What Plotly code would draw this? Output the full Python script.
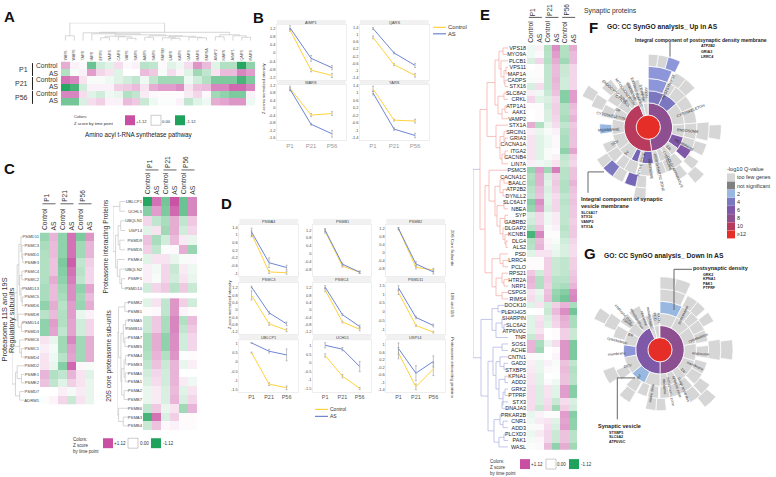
import plotly.graph_objects as go

W, H = 776, 477
FONT = "Liberation Sans"
MAGENTA, GREEN = "#c94fa3", "#1fa35c"
GOLD, BLUE = "#ffd23c", "#6f86d4"
HEAT_SCALE = [[0, GREEN], [.1, "#6cc393"], [.25, "#a8dcbc"], [.5, "#ffffff"], [.75, "#e8b3d6"], [.9, "#d67fbb"], [1, MAGENTA]]

# ---------- Panel A ----------
A_GENES = ["YARS","WARS","TARS","IARS","EPRS","NARS","CARS","VARS","SARS","AARS","SARS","FARSB","LARS","KARS","GARS","HARS","FARSA","AIMP2","MARS","AIMP1","QARS","RARS"]
A_ROWS = ["P1 Control","P1 AS","P21 Control","P21 AS","P56 Control","P56 AS"]
A_VALUES = [
 [.6,.1,.05,-.9,-.3,-.2,.25,.05,.1,-.45,-.4,.05,-.2,-.1,.25,.75,.5,-.2,-.5,-.5,-1.1,-.7],
 [-.5,-.05,.1,.7,.3,.2,-.2,0,0,.5,.4,-.05,.25,.08,-.2,-.6,-.4,.2,.5,.5,.85,.7],
 [.95,.85,.2,-.05,-.05,-.1,-.2,-.3,-.4,-.1,-.4,-.6,-.6,-.6,-.1,-.3,-.5,-.8,-.8,-.8,-1.0,-.8],
 [-1.1,-1.0,-.3,.1,.1,.1,.35,.4,.5,.2,.6,.7,.7,.8,.2,.45,.5,.85,.85,1.0,1.0,.85],
 [.85,.85,.25,-.2,-.3,-.1,-.15,-.5,-.4,.15,.05,.03,.03,.03,.15,.3,.05,-.6,-.7,-.8,-.8,.1],
 [-.85,-.85,-.25,.25,.35,.1,.1,.5,.4,-.35,-.1,-.03,-.03,.1,-.4,-.2,-.1,.6,.65,.75,.75,-.1],
]
A_T1 = (8,2,(7,3,(6,(4.5,(3,4,5),(4,6,(2.5,7,8))),(5,(3.5,9,10),(4.5,(3,11,(2.5,12,13)),(3.5,14,(3,15,16)))))))
A_T2 = (6,(4,17,18),(5,19,(3.5,20,21)))
A_TREE = (18,(5,0,1),(8.5,A_T1,A_T2))

# ---------- Panel C ----------
C_L_GENES = ["PSMD11","PSMC3","PSMD1","PSME3","PSMC4","PSMC2","PSMD13","PSMC5","PSMD6","PSMD8","PSMD14","PSMD3","PSMC6","PSMC1","PSMD4","PSMD2","PSME1","PSME2","PSMD7","ADRM1"]
C_L_VALUES = [
 [-.65,.55,-.7,.95,-.8,.75],[-.55,.5,-.7,.95,-.6,.55],[-.5,.5,-.7,.95,-.6,.55],[-.5,.45,-.8,1.05,-.4,.35],
 [-.5,.45,-.75,.95,-.45,.3],[-.5,.6,-.7,.9,-.4,.3],[-.55,.5,-.6,.8,-.7,.65],[-.55,.5,-.55,.8,-.6,.5],
 [-.7,.6,-.45,.7,-.65,.6],[-.45,.5,-.5,.7,-.15,.1],[-.7,.7,-.5,.65,-.3,.3],[-.7,.65,-.4,.65,-.3,.3],
 [.2,-.15,-.6,.85,-.6,.6],[.12,-.07,-.6,.7,-.6,.6],[.2,-.1,-.45,.65,-.6,.6],[.2,-.15,-.75,1.0,.05,-.05],
 [.55,-.5,-.4,.55,.2,-.2],[.45,-.4,-.2,.35,.2,-.15],[0,0,.12,-.07,.15,-.15],[-.03,.08,.3,-.35,.2,-.15],
]
C_L_TREE = (14,(11,(8,(6,(3.5,0,(2.5,1,(1.5,2,3))),(5,(2.5,4,5),(3.5,6,(2,7,8)))),(7,9,(3,10,11))),(5,12,(3,13,14))),(10,(8,15,(3,16,17)),(5,18,19)))
C_RT_GENES = ["UBLCP1","UCHL5","UBQLN1","USP14","PSMD9","PSMD5","PSME4","UBQLN2","PSMF1","PSMD10"]
C_RT_VALUES = [
 [-1.1,.95,-.85,1.1,-.9,.85],[-.75,.7,-.8,1.0,-.9,.85],[.3,-.4,-.55,.6,-.4,.4],[-.2,.2,-.6,.6,-.3,.3],
 [.45,-.55,-.3,.5,.15,-.15],[.35,-.4,-.03,.05,.6,-.65],[-.2,.2,.2,-.15,-.05,.05],[.12,-.08,.3,-.35,.15,-.12],
 [.12,-.05,.3,-.3,.2,-.15],[-.3,.3,.4,-.45,.4,-.35],
]
C_RT_TREE = (14,(6,0,1),(11,(8,(5,2,3),(6,4,5)),(9,6,(6,7,(4,8,9)))))
C_RB_GENES = ["PSMB2","PSMB1","PSMA5","PSMB10","PSMA7","PSMB5","PSMA4","PSMB3","PSMA6","PSMA1","PSMA2","PSMB7","PSMB6","PSMA3","PSMB4"]
C_RB_VALUES = [
 [-.2,.2,-.4,.75,.35,-.3],[.03,.05,-.4,.75,.08,.03],[-.35,.4,-.55,.85,-.5,.5],[-.35,.4,-.55,.85,-.4,.4],
 [-.55,.6,-.7,.8,-.3,.3],[-.55,.6,-.7,.8,-.3,.3],[-.5,.55,-.5,.75,-.02,.03],[-.4,.45,-.35,.55,-.15,.12],
 [-.3,.3,-.3,.55,0,0],[-.25,.25,-.3,.55,.15,-.1],[-.15,.15,-.25,.5,-.2,.2],[-.15,.15,-.25,.55,-.25,.3],
 [-.4,.4,-.15,.2,-.6,.55],[-1.0,.95,-.25,.35,.03,.03],[-.35,.45,.05,.1,.03,.03],
]
C_RB_TREE = (14,(12,(4,0,1),(9,(6,(3,2,3),(4,4,5)),(8,(5,(3,6,7),(3.5,8,9)),(5,10,11)))),(12,12,(6,13,14)))

# ---------- Panel E ----------
E_GENES = ["VPS18","MYO9A","PLCB1","VPS11","MAP1A","CADPS","STX16","SLC8A2","CRKL","ATP1A1","AAK1","VAMP2","STX1A","SRCIN1","GRIA3","CACNA1A","ITGA2","CACNB4","LIN7A","PSMC5","CACNA1C","BAALC","ATP2B2","DYNLL2","SLC6A17","NBEA","SYP","GABRB2","DLGAP2","KCNB1","DLG4","ALS2","PSD","LRRC4","PCLO","RPS21","HTR2A","NRP1","CSPG5","RIMS4","DOCK10","PLEKHG5","SHARPIN","SLC6A2","ATP6V0C","TNR","SOS1","ACHE","CNTN1","GAD2","STXBP5","KPNA1","ADD2","GRK2","PTPRF","STX3","DNAJA3","PRKAR2B","CNR1","ADD3","PLCXD3","PAK1","WASL"]
E_VALUES = [
 [-.1,.1,-.5,.8,-.5,.6],[-.1,.05,-.45,.7,-.5,.5],[-.25,.3,-.5,.6,-.6,.5],[0,.03,-.4,.5,-.35,.3],[-.03,.03,-.4,.5,-.35,.3],
 [-.05,.05,-.4,.55,-.3,.3],[-.25,.25,-.4,.5,-.3,.3],[.12,-.1,-.35,.45,-.75,.7],[.3,-.2,-.25,.3,-.75,.7],[.03,.03,-.3,.35,-.5,.5],
 [0,.03,-.25,.35,-.5,.45],[0,.03,-.25,.3,-.55,.55],[.6,-.5,-.15,.25,-.4,.4],[.12,-.15,-.05,.1,-.5,.45],[.2,-.2,-.1,.05,-.55,.45],
 [.2,-.2,-.1,.05,-.55,.45],[.2,-.2,-.05,.03,-.7,.65],[.2,-.2,-.05,.1,-.4,.35],[.12,-.1,-.15,.2,-.35,.3],[-.65,.7,-.6,.9,-.45,.45],
 [-.5,.6,-.25,.35,-.45,.45],[-.55,.6,-.2,.4,-.5,.55],[-.45,.5,-.25,.35,-.5,.45],[-.4,.45,-.2,.25,-.4,.4],[-.75,.8,-.2,.3,-.45,.45],
 [-.65,.7,-.25,.3,-.4,.4],[-.25,.3,-.1,.15,-.4,.4],[-.3,.3,-.1,.15,-.4,.35],[-.45,.45,-.05,.1,-.45,.4],[-1.0,.85,-.03,.03,-.4,.4],
 [-.5,.5,.08,-.05,-.3,.3],[-.45,.55,.1,-.1,-.25,.25],[-.2,.2,.2,-.15,-.25,.25],[.03,.03,.35,-.35,-.4,.35],[.03,.03,.35,-.35,-.4,.35],
 [.4,-.3,.35,-.35,-.4,.4],[.55,-.5,.4,-.45,-.45,.45],[.5,-.5,.35,-.5,-.55,.55],[.2,-.15,.45,-.65,-.75,.8],[.25,-.2,.5,-.7,-.85,.85],
 [-.2,.2,-.3,.35,.55,-.55],[0,.02,-.35,.5,.8,-.85],[-.2,.2,-.25,.35,.6,-.55],[-.2,.25,-.2,.3,.55,-.55],[-.2,.2,0,.03,.35,-.35],
 [-.35,.35,0,.03,.35,-.35],[.55,-.55,-.15,.25,.75,-.8],[.55,-.6,0,.03,.75,-.8],[.05,-.05,0,.08,.75,-.8],[.12,-.15,.1,-.05,.45,-.4],
 [.15,-.15,.05,-.03,.5,-.5],[.2,-.2,0,-.02,.45,-.45],[.2,-.2,.05,-.1,.45,-.45],[.25,-.25,.2,-.2,.7,-.75],[.25,-.25,.2,-.2,.7,-.75],
 [.25,-.25,.25,-.35,.25,-.25],[.25,-.35,.3,-.6,.35,-.3],[-.15,.1,-.03,.03,.7,-.75],[-.1,.15,.2,-.2,.65,-.7],[-.05,.05,.25,-.25,.7,-.7],
 [-.12,.15,.3,-.35,.45,-.45],[-.07,.07,.3,-.35,.45,-.45],[-.03,.05,.5,-.7,.6,-.6],
]
E_A1 = (13,(9,(5,0,1),(7,2,(4,(2,3,4),(3,5,6)))),(10,(4,7,8),(6,(3,9,10),11)))
E_A2 = (12,12,(8,(4,13,(3,14,15)),(6,(3,16,17),18)))
E_B1 = (19,19,(13,(8,(4,20,21),(5,22,23)),(11,(4,24,25),(8,(3,26,27),(5,28,(3,29,(2,30,31)))))))
E_B2 = (16,(8,32,(5,33,34)),(12,(6,35,(4,36,37)),(6,38,39)))
E_UP_TREE = (28,(21,E_A1,E_A2),(23,E_B1,E_B2))
E_D1 = (16,(10,40,41),(12,(6,42,(4,43,44)),45))
E_D2 = (20,(15,(6,46,47),(12,(8,48,(4,49,50)),(9,(3,51,52),(5,(3,53,54),(6,55,56))))),(14,(8,57,(5,58,59)),(9,(4,60,61),62)))
E_DOWN_TREE = (27,E_D1,E_D2)
E_ROOT_HEIGHT = 35

# ---------- Line panels B and D ----------
TIMEPOINTS = ["P1","P21","P56"]
LINE_CONTROL = {
 "AIMP1":[1.12,-.84,-1.1],"QARS":[.85,-.68,-1.28],"WARS":[1.05,-.38,-.3],"YARS":[1.22,-.45,-.5],
 "PSMA3":[1.05,-.93,-.97],"PSMB1":[1.15,-.62,-.93],"PSMB2":[1.2,-.72,-.85],
 "PSMC3":[.8,-.75,-1.1],"PSMC4":[1.1,-.65,-1.05],"PSMD11":[1.1,-.75,-1.12],
 "UBLCP1":[.5,-1.2,-1.4],"UCHL5":[.43,-.78,-1.5],"USP14":[.55,-1.25,-.3],
}
LINE_AS = {
 "AIMP1":[1.23,-.26,-.72],"QARS":[1.35,-.02,-.72],"WARS":[1.0,-.87,-1.38],"YARS":[1.0,-.93,-1.27],
 "PSMA3":[1.15,-.45,-.7],"PSMB1":[1.2,-.52,-.93],"PSMB2":[1.22,-.55,-.95],
 "PSMC3":[1.25,-.15,-.75],"PSMC4":[1.25,-.25,-.9],"PSMD11":[1.35,-.3,-.75],
 "UBLCP1":[1.03,.58,.38],"UCHL5":[1.03,.8,-.22],"USP14":[.8,-.52,.11],
}
ERR_CONTROL = {
 "AIMP1":[.06,.08,.1],"QARS":[.08,.06,.1],"WARS":[.12,.08,.1],"YARS":[.15,.05,.1],
 "PSMA3":[.15,.08,.08],"PSMB1":[.1,.05,.06],"PSMB2":[.05,.08,.08],
 "PSMC3":[.25,.08,.08],"PSMC4":[.1,.05,.08],"PSMD11":[.12,.05,.05],
 "UBLCP1":[.03,.08,.1],"UCHL5":[.1,.1,.06],"USP14":[.3,.15,.35],
}
ERR_AS = {
 "AIMP1":[.1,.14,.1],"QARS":[.06,.05,.12],"WARS":[.08,.05,.18],"YARS":[.1,.07,.12],
 "PSMA3":[.2,.25,.12],"PSMB1":[.08,.06,.06],"PSMB2":[.05,.12,.1],
 "PSMC3":[.05,.08,.1],"PSMC4":[.08,.05,.08],"PSMD11":[.12,.07,.08],
 "UBLCP1":[.02,.1,.32],"UCHL5":[.15,.1,.3],"USP14":[.3,.4,.3],
}
Y_TICKS = {
 "AIMP1":[1.2,.8,.4,0,-.4,-.8,-1.2],"QARS":[1.4,1,.6,.2,-.2,-.6,-1,-1.4],
 "WARS":[1.2,.8,.4,0,-.4,-.8,-1.2,-1.6],"YARS":[1.4,1,.6,.2,-.2,-.6,-1,-1.4],
 "PSMA3":[1.4,1,.6,.2,-.2,-.6,-1],"PSMB1":[1.2,.8,.4,0,-.4,-.8],"PSMB2":[1.2,.8,.4,0,-.4,-.8],
 "PSMC3":[1.2,.8,.4,0,-.4,-.8,-1.2],"PSMC4":[1.2,.8,.4,0,-.4,-.8,-1.2],"PSMD11":[1.5,1,.5,0,-.5,-1],
 "UBLCP1":[1,.5,0,-.5,-1,-1.5],"UCHL5":[1,.5,0,-.5,-1,-1.5],"USP14":[1,.6,.2,-.2,-.6,-1,-1.4],
}
Y_RANGE = {
 "AIMP1":[-1.33,1.39],"QARS":[-1.55,1.57],"WARS":[-1.72,1.24],"YARS":[-1.52,1.44],
 "PSMA3":[-1.14,1.52],"PSMB1":[-1.12,1.47],"PSMB2":[-1.15,1.4],
 "PSMC3":[-1.3,1.5],"PSMC4":[-1.3,1.5],"PSMD11":[-1.22,1.65],
 "UBLCP1":[-1.62,1.18],"UCHL5":[-1.7,1.33],"USP14":[-1.52,1.25],
}

# ---------- Sunbursts F and G: (ring, start deg, end deg, level) ----------
LEVELS = {"few":"#d6d6d6","ns":"#808080","2":"#98b8e2","3":"#8c96d8","4":"#7c78c0","5":"#7565b6","6":"#8058a8","8":"#8d4f8f","10":"#b83a5c","12":"#e62e28"}
F_SEGMENTS = [
 (0,0,360,"12"),
 (1,0,172,"8"),(1,172,338,"10"),(1,338,348,"few"),(1,348,359,"few"),
 (2,0,25,"4"),(2,25,50,"4"),(2,50,85,"few"),(2,85,106,"few"),(2,106,126,"6"),(2,126,140,"few"),(2,140,150,"few"),(2,150,161,"few"),(2,161,172,"few"),
 (2,172,190,"5"),(2,190,197,"few"),(2,197,208,"5"),(2,208,232,"few"),(2,232,258,"few"),(2,258,283,"few"),(2,283,303,"few"),(2,303,318,"few"),(2,318,327,"few"),(2,327,337,"few"),(2,338,348,"few"),(2,348,359,"few"),
 (3,0,23,"3"),(3,23,34,"few"),(3,34,50,"few"),(3,50,66,"few"),(3,66,85,"few"),(3,85,105,"few"),(3,105,118,"few"),(3,118,131,"6"),(3,135,150,"few"),(3,150,158,"few"),(3,158,170,"few"),(3,175,190,"few"),(3,195,210,"few"),(3,210,222,"few"),(3,224,238,"few"),(3,238,250,"few"),(3,262,274,"2"),(3,283,298,"few"),(3,303,316,"few"),(3,318,327,"few"),(3,328,338,"few"),(3,340,349,"few"),
 (4,0,23,"3"),(4,27,38,"few"),(4,38,50,"few"),(4,85,103,"few"),(4,106,118,"few"),(4,124,134,"few"),(4,140,150,"few"),(4,182,192,"few"),(4,192,203,"5"),(4,205,216,"few"),(4,216,228,"4"),(4,228,238,"few"),(4,290,303,"few"),(4,310,322,"few"),
 (5,0,8,"few"),(5,8,16,"few"),(5,16,26,"3"),(5,88,100,"few"),(5,130,140,"few"),(5,182,192,"few"),(5,295,305,"few"),
]
G_SEGMENTS = [
 (0,0,360,"12"),
 (1,0,180,"8"),(1,180,335,"6"),(1,335,346,"few"),(1,346,358,"few"),
 (2,0,27,"few"),(2,27,52,"few"),(2,52,80,"few"),(2,80,108,"few"),(2,108,135,"few"),(2,135,150,"few"),(2,150,165,"few"),(2,165,180,"few"),(2,180,205,"few"),(2,205,230,"2"),(2,230,258,"few"),(2,258,278,"3"),(2,278,300,"few"),(2,300,318,"few"),(2,318,335,"few"),(2,335,346,"few"),(2,346,358,"few"),
 (3,0,27,"2"),(3,27,40,"few"),(3,40,52,"few"),(3,52,66,"few"),(3,66,80,"few"),(3,85,100,"few"),(3,105,120,"few"),(3,120,135,"few"),(3,138,150,"few"),(3,150,165,"few"),(3,168,180,"few"),(3,182,195,"few"),(3,196,208,"few"),(3,210,224,"few"),(3,232,245,"few"),(3,285,300,"few"),(3,305,318,"few"),(3,320,335,"few"),
 (4,0,25,"few"),(4,27,38,"few"),(4,38,48,"few"),(4,52,62,"few"),(4,80,100,"few"),(4,125,137,"few"),(4,138,150,"few"),(4,174,184,"few"),(4,184,194,"few"),(4,210,222,"few"),(4,236,250,"few"),(4,293,307,"few"),
 (5,0,13,"few"),(5,13,25,"few"),(5,82,98,"few"),(5,130,142,"few"),(5,295,305,"few"),
]
F_LABELS = [("POSTSYNAPSE",328,255,-65),("CYTOSKELETON",392,330,-22),("ENDOSOME",385,388,5),("MEMBRANE",372,433,30),("ER",325,440,55),
 ("GOLGI APPARATUS",345,512,65),("LYSOSOME",322,480,70),("PERISYNAPTIC ZONE",298,515,77),("RIBOSOME",270,505,82),("ACTIVE ZONE",245,490,-75),
 ("SV",200,455,-45),("DCV",165,425,-30),("MEMBRANE",147,385,-3),("CYTOSKELETON",152,345,12),("ER",172,327,30),("CYTOSOL",188,298,38),
 ("ENDOCYTIC ZONE",165,272,42),("MITOCHONDRION",195,272,55),("RIBOSOME",212,270,65),("EXTRASYNAPTIC",228,272,72),("SYNAPSE",245,275,80),("AXON",258,272,87)]
G_LABELS = [("postsynapse",370,240,-65),("cytoskeleton",415,310,-22),("endosome",420,358,5),("membrane",405,395,25),("ER",368,410,55),
 ("Golgi apparatus",372,465,68),("synaptic zone",350,458,72),("perisynaptic zone",332,472,80),("ribosome",312,455,85),("active zone",275,475,-80),
 ("SV",238,428,-60),("DCV",205,395,-15),("membrane",170,358,-5),("cytoskeleton",173,318,15),("ER",210,300,25),("cytosol",205,265,40),
 ("endocytic zone",190,238,48),("mitochondrion",228,250,60),("ribosome",250,250,72),("extrasynaptic",268,250,80),("PCD",285,245,85),("AXON",297,248,88)]
LEGEND_ENTRIES = [("too few genes","few"),("not significant","ns"),("2","2"),("4","4"),("6","6"),("8","8"),("10","10"),("\u226512","12")]

# ---------- helpers ----------
fig = go.Figure()
layout_axes, shapes, annos = {}, [], []
axis_n = 0

def px(x): return x / W
def py(y): return 1 - y / H

def new_axes(x0, x1, y0, y1, xopts=None, yopts=None):
    global axis_n
    axis_n += 1
    s = "" if axis_n == 1 else str(axis_n)
    base = dict(showgrid=False, zeroline=False, ticks="", showline=False)
    layout_axes["xaxis" + s] = {**base, "domain":[px(x0), px(x1)], "anchor":"y" + s, **(xopts or {})}
    layout_axes["yaxis" + s] = {**base, "domain":[py(y1), py(y0)], "anchor":"x" + s, **(yopts or {})}
    return "x" + s, "y" + s

def txt(x, y, s, size=5, color="#222", anchor="center", rot=0, bold=False, yanchor="middle"):
    annos.append(dict(x=px(x), y=py(y), xref="paper", yref="paper", text=f"<b>{s}</b>" if bold else s, showarrow=False,
                      font=dict(size=size, color=color, family=FONT), xanchor=anchor, yanchor=yanchor, textangle=rot, borderpad=0, borderwidth=0))

def rect(x0, y0, x1, y1, fill, line=None, w=0.5):
    shapes.append(dict(type="rect", xref="paper", yref="paper", x0=px(x0), x1=px(x1), y0=py(y0), y1=py(y1),
                       fillcolor=fill, line=dict(color=line or fill, width=w if line else 0), layer="below"))

def seg(x0, y0, x1, y1, color="#333", w=1):
    shapes.append(dict(type="line", xref="paper", yref="paper", x0=px(x0), x1=px(x1), y0=py(y0), y1=py(y1), line=dict(color=color, width=w)))

def walk(node, xs, ys):
    if isinstance(node, int):
        return node, 0
    h, a, b = node
    xa, ha = walk(a, xs, ys)
    xb, hb = walk(b, xs, ys)
    xs += [xa, xa, xb, xb, None]
    ys += [ha, h, h, hb, None]
    return (xa + xb) / 2, h

def heat(values, x0, x1, y0, y1, rows, cols=None, rowsize=4.2, rowcolor="#444", colsize=3.8):
    nr, nc = len(values), len(values[0])
    xopts = dict(range=[-.5, nc - .5], showticklabels=False)
    if cols:
        xopts = dict(range=[-.5, nc - .5], side="top", tickmode="array", tickvals=list(range(nc)), ticktext=cols, tickangle=-90,
                     tickfont=dict(size=colsize, color="#555", family=FONT))
    yopts = dict(range=[nr - .5, -.5], showticklabels=False)
    if rows:
        yopts = dict(range=[nr - .5, -.5], tickmode="array", tickvals=list(range(nr)), ticktext=rows,
                     tickfont=dict(size=rowsize, color=rowcolor, family=FONT))
    xa, ya = new_axes(x0, x1, y0, y1, xopts, yopts)
    fig.add_trace(go.Heatmap(z=values, xaxis=xa, yaxis=ya, zmin=-1.12, zmax=1.12, showscale=False,
                             colorscale=HEAT_SCALE, hoverinfo="skip"))

def tree_h(tree, x0, x1, y0, y1, n, hmax, color="#c4c4c4"):
    xa, ya = new_axes(x0, x1, y0, y1, dict(range=[hmax, 0], visible=False), dict(range=[n - .5, -.5], visible=False))
    xs, ys = [], []
    walk(tree, xs, ys)
    fig.add_trace(go.Scatter(x=ys, y=xs, xaxis=xa, yaxis=ya, mode="lines", line=dict(color=color, width=.7), hoverinfo="skip"))

def line_panel(gene, x0, x1, y0, y1, strip, xr, tick_color, tick_size):
    rect(x0, strip, x1, y0, "#f1f1f1")
    txt((x0 + x1) / 2, (strip + y0) / 2, gene, 3.9, "#444")
    xa, ya = new_axes(x0, x1, y0, y1,
        dict(range=xr, type="linear", tickmode="array", tickvals=[0, 1, 2], ticktext=TIMEPOINTS if tick_color else ["", "", ""],
             tickfont=dict(size=tick_size, color=tick_color or "#777", family=FONT), showline=True, mirror=True, linecolor="#eeeeee", linewidth=.5),
        dict(range=Y_RANGE[gene], tickmode="array", tickvals=Y_TICKS[gene], ticktext=[f"{v:g}" for v in Y_TICKS[gene]],
             tickfont=dict(size=3.9, color="#444", family=FONT), showline=True, mirror=True, linecolor="#eeeeee", linewidth=.5))
    for vals, err, col in ((LINE_CONTROL[gene], ERR_CONTROL[gene], GOLD), (LINE_AS[gene], ERR_AS[gene], BLUE)):
        fig.add_trace(go.Scatter(x=[0, 1, 2], y=vals, xaxis=xa, yaxis=ya, mode="lines", line=dict(color=col, width=1),
                                 error_y=dict(type="data", array=err, color="#9a9a9a", thickness=.6, width=1), hoverinfo="skip"))

def colour_key(x_text, y_text, xs, y, size, caption_lines, w=10, h=10):
    for line, yy in zip(caption_lines, y_text):
        txt(x_text, yy, line, size, "#333", "left")
    for x, fill, line, label, lx in xs:
        rect(x, y, x + w, y + h, fill, line, .6)
        txt(lx, y + h / 2, label, size, "#333", "left")

def sunburst(segments, cx, cy, name):
    R = 73.5
    layout_axes[name] = dict(domain=dict(x=[px(cx - R), px(cx + R)], y=[py(cy + R), py(cy - R)]),
        bgcolor="rgba(0,0,0,0)", barmode="overlay",
        radialaxis=dict(range=[0, 6], visible=False), angularaxis=dict(visible=False, rotation=90, direction="clockwise"))
    fig.add_trace(go.Barpolar(subplot=name, r=[1] * len(segments), base=[s[0] for s in segments],
        theta=[(s[1] + s[2]) / 2 for s in segments], width=[s[2] - s[1] for s in segments],
        marker=dict(color=[LEVELS[s[3]] for s in segments], line=dict(color="#ffffff", width=.7)), hoverinfo="skip"))

def ring_labels(labels, x0, y0, size=3.7):
    for s, zx, zy, rot in labels:
        txt(x0 + zx / 3, y0 + zy / 3, s, size, "#333", rot=rot)

# ---------- A ----------
txt(9, 15, "A", 15, "#111", bold=True)
heat(A_VALUES, 61, 255, 60, 104.3, None, A_GENES)
xa, ya = new_axes(61, 255, 21, 39, dict(range=[-.5, 21.5], visible=False), dict(range=[0, 18], visible=False))
xs, ys = [], []
walk(A_TREE, xs, ys)
fig.add_trace(go.Scatter(x=xs, y=ys, xaxis=xa, yaxis=ya, mode="lines", line=dict(color="#c4c4c4", width=.7), hoverinfo="skip"))
for i, (lab, yc) in enumerate((("P1", 68), ("P21", 82), ("P56", 96))):
    txt(27.5, yc, lab, 7, "#333", "right")
    seg(32.5, yc - 6.5, 32.5, yc + 6.5, "#222", 1)
    txt(57.5, yc - 4, "Control", 6.7, "#333", "right")
    txt(57.5, yc + 3.5, "AS", 6.7, "#333", "right")
txt(74, 115.5, "Colors:", 4.2, "#333", "left")
txt(74, 122, "Z score by time point", 4.2, "#333", "left")
for x, fill, line, lab, lx in ((125, MAGENTA, None, "+1.12", 135.5), (151, "#fff", "#aaa", "0.00", 162), (175, GREEN, None, "-1.12", 185.5)):
    rect(x, 114, x + 10, 124, fill, line, .6)
    txt(lx, 120, lab, 4.2, "#333", "left")
txt(139, 134, "Amino acyl t-RNA synthetase pathway", 6.3, "#222")

# ---------- C ----------
txt(9, 168, "C", 15, "#111", bold=True)
heat(C_L_VALUES, 40, 94, 232, 405, C_L_GENES)
tree_h(C_L_TREE, 12, 24, 232, 405, 20, 14)
heat(C_RT_VALUES, 143, 197, 196, 293, C_RT_GENES)
tree_h(C_RT_TREE, 113, 125, 196, 293, 10, 14)
heat(C_RB_VALUES, 143, 197, 298, 431, C_RB_GENES)
tree_h(C_RB_TREE, 117, 128, 298, 431, 15, 14)
for x0, ytop, ybar in ((40, 230, 203), (143, 194, 169)):
    for k, tp in enumerate(TIMEPOINTS):
        c = x0 + 9 + k * 18
        seg(c - 6.5, ybar, c + 6.5, ybar, "#888", 1.3)
        txt(c - 2, ybar - 2, tp, 6.5, "#333", rot=-90, yanchor="bottom")
        txt(c - 4.5, ytop, "Control", 6.7, "#333", rot=-90, yanchor="bottom")
        txt(c + 4.5, ytop, "AS", 6.7, "#333", rot=-90, yanchor="bottom")
txt(4.5, 320, "Proteasome 11S and 19S", 7.4, "#333", rot=-90)
txt(12, 320, "Regulatory subunits", 7.4, "#333", rot=-90)
txt(106, 245, "Proteasome interacting Proteins", 6.6, "#333", rot=-90)
txt(109, 356, "20S core proteasome sub-units", 6.6, "#333", rot=-90)
colour_key(73, (440, 446, 452), ((103, MAGENTA, None, "+1.12", 113.5), (128, "#fff", "#aaa", "0.00", 139.5), (151, GREEN, None, "-1.12", 162.5)), 439, 4.5, ("Colors:", "Z score", "by time point"))

# ---------- B ----------
txt(258, 16, "B", 15, "#111", bold=True)
xr_b = [-.62, 2.65]
for gene, x0, x1, strip, y0, y1, t in (("AIMP1", 277, 345.7, 18, 22.7, 78.7, None), ("QARS", 360, 428.7, 18, 22.7, 78.7, None),
                                       ("WARS", 277, 345.7, 78.7, 83.3, 139, "#999"), ("YARS", 360, 428.7, 78.7, 83.3, 139, "#999")):
    line_panel(gene, x0, x1, y0, y1, strip, xr_b, t, 6)
txt(263.5, 88, "Z scores normalized intensity", 3.9, "#333", rot=-90)
for lab, yy, col in (("Control", 25.5, GOLD), ("AS", 32, BLUE)):
    seg(433, yy, 446, yy, col, 1.2)
    txt(448, yy, lab, 5.8, "#333", "left")

# ---------- D ----------
txt(226, 203, "D", 15, "#111", bold=True)
xr_d = [-.7, 2.67]
D_COLS = ((239.3, 298.3), (313, 371.3), (386.3, 445))
D_ROWS = ((218.3, 224.3, 275.7, None), (276.7, 282.3, 334, None), (334.3, 340.3, 392.3, "#555"))
D_GENES = (("PSMA3", "PSMB1", "PSMB2"), ("PSMC3", "PSMC4", "PSMD11"), ("UBLCP1", "UCHL5", "USP14"))
for genes, (strip, y0, y1, t) in zip(D_GENES, D_ROWS):
    for gene, (x0, x1) in zip(genes, D_COLS):
        line_panel(gene, x0, x1, y0, y1, strip, xr_d, t, 5.5)
txt(229, 305, "Z score normalized intensity", 3.9, "#333", rot=-90)
txt(452.5, 247, "20S Core Subunits", 4.3, "#333", rot=90)
txt(452.5, 305, "19S and 11S", 4.3, "#333", rot=90)
txt(452.5, 368, "Proteasome interacting proteins", 4.3, "#333", rot=90)
for lab, yy, col in (("Control", 410, GOLD), ("AS", 417, BLUE)):
    seg(315, yy, 328, yy, col, 1.2)
    txt(330, yy, lab, 5, "#333", "left")

# ---------- E ----------
txt(485, 13, "E", 15, "#111", bold=True)
heat(E_VALUES, 527, 577, 43, 451, E_GENES, rowsize=5.4, rowcolor="#222")
n_e = len(E_GENES)
xa, ya = new_axes(473, 508, 43, 451, dict(range=[E_ROOT_HEIGHT, 0], visible=False), dict(range=[n_e - .5, -.5], visible=False))
xu, yu = [], []
pu, hu = walk(E_UP_TREE, xu, yu)
xd, yd = [], []
pd, hd = walk(E_DOWN_TREE, xd, yd)
fig.add_trace(go.Scatter(x=yu, y=xu, xaxis=xa, yaxis=ya, mode="lines", line=dict(color="#f3a8a2", width=.7), hoverinfo="skip"))
fig.add_trace(go.Scatter(x=yd, y=xd, xaxis=xa, yaxis=ya, mode="lines", line=dict(color="#aab0e2", width=.7), hoverinfo="skip"))
fig.add_trace(go.Scatter(x=[hu, E_ROOT_HEIGHT, E_ROOT_HEIGHT, hd], y=[pu, pu, pd, pd], xaxis=xa, yaxis=ya, mode="lines", line=dict(color="#aab0e2", width=.7), hoverinfo="skip"))
for k, tp in enumerate(TIMEPOINTS):
    c = 527 + 8.33 + k * 16.67
    seg(c - 6.5, 15.5, c + 6.5, 15.5, "#333", .8)
    txt(c - 2, 14, tp, 6.5, "#333", rot=-90, yanchor="bottom")
    txt(c - 4.2, 41, "Control", 6.7, "#333", rot=-90, yanchor="bottom")
    txt(c + 4.2, 41, "AS", 6.7, "#333", rot=-90, yanchor="bottom")
txt(584, 9, "Synaptic proteins", 6.8, "#333", "left")
colour_key(490, (462, 468, 474), ((520, MAGENTA, None, "+1.12", 530.5), (546, "#fff", "#aaa", "0.00", 557), (569, GREEN, None, "-1.12", 581)), 460, 4.5, ("Colors:", "Z score", "by time point"))

# ---------- F ----------
txt(593, 26, "F", 15, "#111", bold=True)
txt(607, 25.6, "GO: CC SynGO analysis_ Up in AS", 6.7, "#222", "left", bold=True)
sunburst(F_SEGMENTS, 648.3, 126, "polar")
ring_labels(F_LABELS, 560, 0)
txt(634.7, 38.3, "Integral component of postsynaptic density membrane", 5.05, "#222", "left", bold=True)
for s, yy in zip(("ATP2B2", "GRIA3", "LRRC4"), (44.5, 50, 55)):
    txt(700.5, yy, s, 3.7, "#222", "left", bold=True)
seg(670, 40, 670, 55, "#666", 1)
txt(581, 198.5, "Integral component of synaptic", 5.5, "#222", "left", bold=True)
txt(581, 205.5, "vesicle membrane", 5.5, "#222", "left", bold=True)
for s, yy in zip(("SLC6A17", "STX16", "VAMP2", "STX1A"), (212, 216.5, 221, 226)):
    txt(581, yy, s, 3.7, "#222", "left", bold=True)
seg(604, 171, 588, 171, "#666", 1)
seg(588, 171, 588, 192, "#666", 1)
txt(727, 168, "-log10 Q-value", 5.6, "#333", "left")
for i, (lab, key) in enumerate(LEGEND_ENTRIES):
    yy = 172.5 + i * 8.2
    rect(727, yy, 735, yy + 8, LEVELS[key])
    txt(737, yy + 4, lab, 5.4, "#333", "left")

# ---------- G ----------
txt(590, 253, "G", 15, "#111", bold=True)
txt(604, 255.7, "GO: CC SynGO analysis_ Down in AS", 6.7, "#222", "left", bold=True)
sunburst(G_SEGMENTS, 660, 350, "polar2")
ring_labels(G_LABELS, 560, 235)
txt(692.6, 267.7, "postsynaptic density", 5.5, "#222", "left", bold=True)
for s, yy in zip(("GRK2", "KPNA1", "PAK1", "PTPRF"), (274.5, 279, 283.5, 288)):
    txt(703, yy, s, 3.7, "#222", "left", bold=True)
seg(692, 269, 674, 269, "#666", 1)
seg(674, 269, 674, 310, "#666", 1)
txt(597.5, 427, "Synaptic vesicle", 5.5, "#222", "left", bold=True)
for s, yy in zip(("STXBP5", "SLC6A2", "ATP6V0C"), (433.5, 438, 443)):
    txt(608.5, yy, s, 3.7, "#222", "left", bold=True)
seg(635, 378.3, 617.3, 378.3, "#666", 1)
seg(617.3, 378.3, 617.3, 420, "#666", 1)

fig.update_layout(width=W, height=H, autosize=False, margin=dict(l=0, r=0, t=0, b=0), showlegend=False,
                  paper_bgcolor="#ffffff", plot_bgcolor="#ffffff", shapes=shapes, annotations=annos,
                  font=dict(family=FONT), **layout_axes)
fig.write_html("out.html", post_script="document.body.style.margin='0';", config={"displayModeBar": False})
